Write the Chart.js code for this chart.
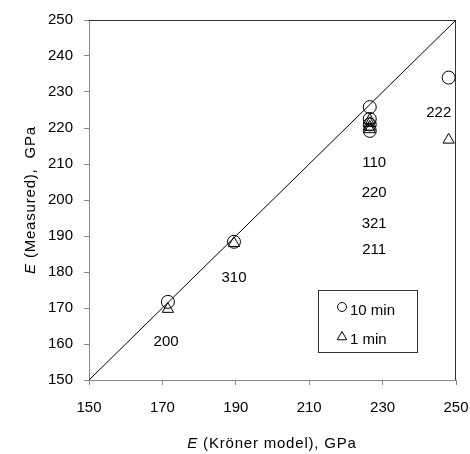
<!DOCTYPE html>
<html>
<head>
<meta charset="utf-8">
<script src="https://cdn.jsdelivr.net/npm/chart.js@4/dist/chart.umd.min.js"></script>
<style>
  html, body { margin: 0; padding: 0; background: #fff; }
</style>
</head>
<body>
<canvas id="chart-e" width="470" height="454"></canvas>
<script>
// reflections (hkl) and Young's modulus values, GPa
var reflections = ['200', '310', '110', '220', '321', '211', '222'];
var eKroner = [171.5, 189.5, 226.5, 226.5, 226.5, 226.5, 248];
var eMeasured10 = [171.7, 188.4, 225.8, 222.5, 221.0, 219.2, 234.0];
var eMeasured1 = [169.7, 188.0, 222.2, 221.3, 220.3, 219.6, 216.7];
// where each hkl label sits, in axis units
var labelX = [171.0, 189.5, 227.7, 227.7, 227.7, 227.7, 245.3];
var labelY = [160.6, 178.5, 210.4, 201.9, 193.5, 186.1, 224.2];
var diagonal = [150, 250];

var font = "'Liberation Sans', Arial, sans-serif";

function toPoints(xs, ys) {
    return xs.map(function (x, i) { return { x: x, y: ys[i] }; });
}

var extras = {
    id: 'extras',
    beforeDatasetsDraw: function (chart) {
        var ctx = chart.ctx, a = chart.chartArea;
        ctx.save();
        ctx.strokeStyle = '#333';
        ctx.lineWidth = 1;
        ctx.beginPath();
        ctx.moveTo(a.left, a.top + 0.5);
        ctx.lineTo(a.right - 0.5, a.top + 0.5);
        ctx.lineTo(a.right - 0.5, a.bottom);
        ctx.stroke();
        ctx.restore();
    },
    afterDraw: function (chart) {
        var ctx = chart.ctx, xs = chart.scales.x, ys = chart.scales.y;
        ctx.save();
        ctx.fillStyle = '#000';
        ctx.font = '15px ' + font;
        ctx.textAlign = 'center';
        ctx.textBaseline = 'middle';
        reflections.forEach(function (r, i) {
            ctx.fillText(r, xs.getPixelForValue(labelX[i]), ys.getPixelForValue(labelY[i]));
        });

        // axis titles with italic E
        function title(cx, cy, angle, text) {
            ctx.save();
            ctx.translate(cx, cy);
            ctx.rotate(angle);
            ctx.letterSpacing = '0.8px';
            ctx.textAlign = 'left';
            ctx.font = 'italic 15px ' + font;
            var w1 = ctx.measureText('E ').width;
            ctx.font = '15px ' + font;
            var w2 = ctx.measureText(text).width;
            var x0 = -(w1 + w2) / 2;
            ctx.font = 'italic 15px ' + font;
            ctx.fillText('E ', x0, 0);
            ctx.font = '15px ' + font;
            ctx.fillText(text, x0 + w1, 0);
            ctx.restore();
        }
        title(272, 444, 0, '(Kröner model), GPa');
        title(31, 200, -Math.PI / 2, '(Measured),  GPa');

        // legend box
        ctx.strokeStyle = '#333';
        ctx.lineWidth = 1;
        ctx.strokeRect(318.5, 290.5, 99, 62);
        ctx.strokeStyle = '#000';
        ctx.fillStyle = 'rgba(0,0,0,0)';
        Chart.helpers.drawPoint(ctx, { pointStyle: 'circle', radius: 4.5, borderWidth: 1 }, 342, 307);
        Chart.helpers.drawPoint(ctx, { pointStyle: 'triangle', radius: 5.5, borderWidth: 1 }, 342, 337);
        ctx.fillStyle = '#000';
        ctx.textAlign = 'left';
        ctx.font = '15px ' + font;
        ctx.fillText('10 min', 350, 311);
        ctx.fillText('1 min', 350, 340);
        ctx.restore();
    }
};

var chartE = new Chart(document.getElementById('chart-e'), {
    type: 'scatter',
    data: {
        datasets: [{
            label: '10 min',
            data: toPoints(eKroner, eMeasured10),
            pointStyle: 'circle',
            pointRadius: 6.5,
            borderColor: '#000',
            backgroundColor: 'transparent',
            borderWidth: 1
        }, {
            label: '1 min',
            data: toPoints(eKroner, eMeasured1),
            pointStyle: 'triangle',
            pointRadius: 6.5,
            borderColor: '#000',
            backgroundColor: 'transparent',
            borderWidth: 1
        }, {
            label: 'line',
            type: 'line',
            data: toPoints(diagonal, diagonal),
            borderColor: '#000',
            borderWidth: 1,
            pointRadius: 0
        }]
    },
    options: {
        responsive: false,
        animation: false,
        layout: { padding: { top: 20, right: 14, left: 0, bottom: 0 } },
        plugins: {
            legend: { display: false },
            tooltip: { enabled: false }
        },
        scales: {
            x: {
                type: 'linear',
                min: 150, max: 250,
                afterFit: function (s) { s.height = 74; s.paddingLeft = 0; s.paddingRight = 0; },
                grid: { display: true, drawOnChartArea: false, drawTicks: true, tickLength: 5, color: '#868686' },
                border: { color: '#868686' },
                ticks: { stepSize: 20, maxRotation: 0, padding: 14, color: '#000', font: { family: font, size: 15 } }
            },
            y: {
                min: 150, max: 250,
                afterFit: function (s) { s.width = 89; s.paddingTop = 0; s.paddingBottom = 0; },
                grid: { display: true, drawOnChartArea: false, drawTicks: true, tickLength: 5, color: '#868686' },
                border: { color: '#868686' },
                ticks: { stepSize: 10, padding: 11, color: '#000', font: { family: font, size: 15 } }
            }
        }
    },
    plugins: [extras]
});
</script>
</body>
</html>
